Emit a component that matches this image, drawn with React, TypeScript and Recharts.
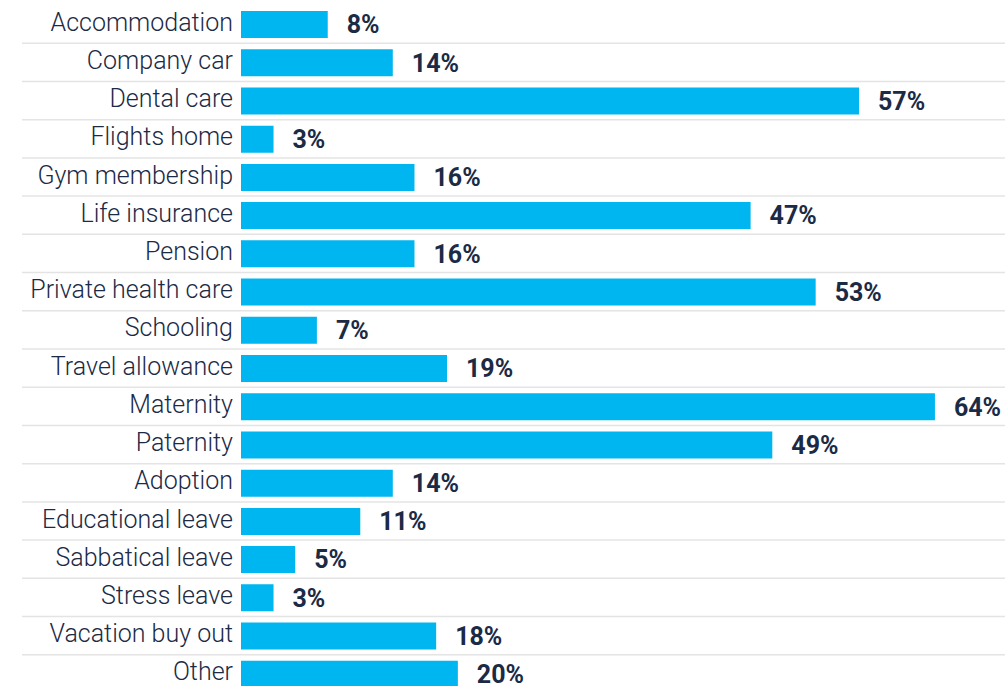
import { BarChart, Bar, XAxis, YAxis, LabelList } from "recharts"

const categories = [
  "Accommodation",
  "Company car",
  "Dental care",
  "Flights home",
  "Gym membership",
  "Life insurance",
  "Pension",
  "Private health care",
  "Schooling",
  "Travel allowance",
  "Maternity",
  "Paternity",
  "Adoption",
  "Educational leave",
  "Sabbatical leave",
  "Stress leave",
  "Vacation buy out",
  "Other",
]

const shares = [8, 14, 57, 3, 16, 47, 16, 53, 7, 19, 64, 49, 14, 11, 5, 3, 18, 20]

const data = categories.map((name, i) => ({ name, value: shares[i] }))

const CHART_W = 1005
const CHART_H = 698
const MARGIN = { top: 5, right: 5, bottom: 5, left: 0 }
const AXIS_W = 241
const BAND = (CHART_H - MARGIN.top - MARGIN.bottom) / categories.length

const FONT = "Roboto, 'Liberation Sans', Arial, sans-serif"
const NAVY = "#1b2a45"
const CYAN = "#00b6f1"
const GRID = "#e4e4e4"

// category label plus the separator line under its row
const CategoryTick = (props: any) => {
  const { x, y, payload, index } = props
  const last = index === categories.length - 1
  return (
    <g>
      {!last && (
        <line x1={22} x2={CHART_W} y1={y + BAND / 2} y2={y + BAND / 2} stroke={GRID} strokeWidth={1.5} />
      )}
      <text
        x={x}
        y={y - 2}
        textAnchor="end"
        dominantBaseline="central"
        fill={NAVY}
        fontFamily={FONT}
        fontWeight={300}
        fontSize={25}
      >
        {payload.value}
      </text>
    </g>
  )
}

const App = () => {
  return (
    <div style={{ position: "absolute", left: 0, top: 0 }}>
      <BarChart
        width={CHART_W}
        height={CHART_H}
        data={data}
        layout="vertical"
        margin={MARGIN}
      >
        <XAxis type="number" domain={[0, 70]} hide />
        <YAxis
          type="category"
          dataKey="name"
          width={AXIS_W}
          axisLine={false}
          tickLine={false}
          tickSize={0}
          tickMargin={8}
          interval={0}
          tick={<CategoryTick />}
        />
        <Bar dataKey="value" fill={CYAN} barSize={27} isAnimationActive={false}>
          <LabelList
            dataKey="value"
            position="right"
            offset={19}
            formatter={(v: any) => `${v}%`}
            fill={NAVY}
            fontFamily={FONT}
            fontWeight={700}
            fontSize={25}
          />
        </Bar>
      </BarChart>
    </div>
  )
}

export default App
